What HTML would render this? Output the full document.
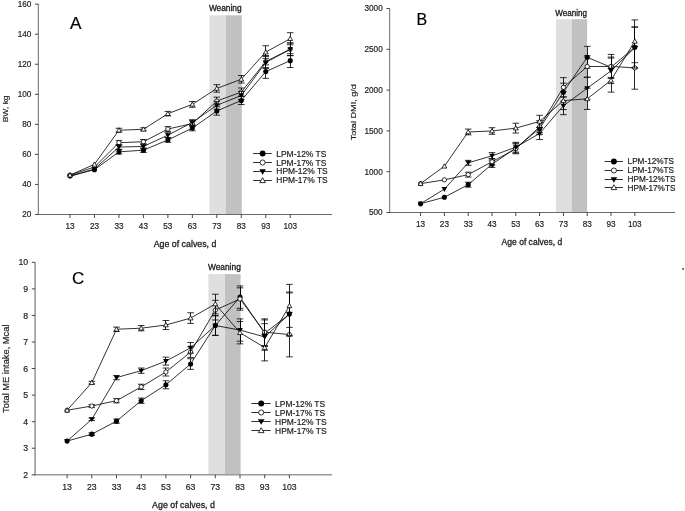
<!DOCTYPE html>
<html><head><meta charset="utf-8"><title>Figure</title>
<style>
html,body{margin:0;padding:0;background:#fff;}
body{width:685px;height:511px;overflow:hidden;font-family:"Liberation Sans",sans-serif;}
svg{display:block;filter:grayscale(100%);}
</style></head><body>
<svg width="685" height="511" viewBox="0 0 685 511">
<rect width="685" height="511" fill="#fff"/>
<g>
<rect x="209.4" y="15.3" width="16.4" height="199.2" fill="#dfdfdf"/>
<rect x="225.8" y="15.3" width="16" height="199.2" fill="#c1c1c1"/>
<text x="208.9" y="11.2" font-size="8.2" text-anchor="start" fill="#1a1a1a" stroke="#1a1a1a" font-family='"Liberation Sans", sans-serif' textLength="32.7" lengthAdjust="spacingAndGlyphs" stroke-width="0.3">Weaning</text>
<line x1="38.3" y1="4" x2="38.3" y2="215" stroke="#6a6a6a" stroke-width="1"/>
<line x1="37.8" y1="214.5" x2="332.2" y2="214.5" stroke="#6a6a6a" stroke-width="1"/>
<line x1="35" y1="214.5" x2="38.3" y2="214.5" stroke="#333" stroke-width="0.9"/>
<text x="31.4" y="217.45" font-size="8.2" text-anchor="end" fill="#222" stroke="#222" font-family='"Liberation Sans", sans-serif' stroke-width="0.18">20</text>
<line x1="35" y1="184.45" x2="38.3" y2="184.45" stroke="#333" stroke-width="0.9"/>
<text x="31.4" y="187.4" font-size="8.2" text-anchor="end" fill="#222" stroke="#222" font-family='"Liberation Sans", sans-serif' stroke-width="0.18">40</text>
<line x1="35" y1="154.4" x2="38.3" y2="154.4" stroke="#333" stroke-width="0.9"/>
<text x="31.4" y="157.35" font-size="8.2" text-anchor="end" fill="#222" stroke="#222" font-family='"Liberation Sans", sans-serif' stroke-width="0.18">60</text>
<line x1="35" y1="124.35" x2="38.3" y2="124.35" stroke="#333" stroke-width="0.9"/>
<text x="31.4" y="127.3" font-size="8.2" text-anchor="end" fill="#222" stroke="#222" font-family='"Liberation Sans", sans-serif' stroke-width="0.18">80</text>
<line x1="35" y1="94.3" x2="38.3" y2="94.3" stroke="#333" stroke-width="0.9"/>
<text x="31.4" y="97.25" font-size="8.2" text-anchor="end" fill="#222" stroke="#222" font-family='"Liberation Sans", sans-serif' stroke-width="0.18">100</text>
<line x1="35" y1="64.25" x2="38.3" y2="64.25" stroke="#333" stroke-width="0.9"/>
<text x="31.4" y="67.2" font-size="8.2" text-anchor="end" fill="#222" stroke="#222" font-family='"Liberation Sans", sans-serif' stroke-width="0.18">120</text>
<line x1="35" y1="34.2" x2="38.3" y2="34.2" stroke="#333" stroke-width="0.9"/>
<text x="31.4" y="37.15" font-size="8.2" text-anchor="end" fill="#222" stroke="#222" font-family='"Liberation Sans", sans-serif' stroke-width="0.18">140</text>
<line x1="35" y1="4.15" x2="38.3" y2="4.15" stroke="#333" stroke-width="0.9"/>
<text x="31.4" y="7.1" font-size="8.2" text-anchor="end" fill="#222" stroke="#222" font-family='"Liberation Sans", sans-serif' stroke-width="0.18">160</text>
<line x1="70" y1="214.5" x2="70" y2="218" stroke="#333" stroke-width="0.9"/>
<text x="70" y="229" font-size="8.2" text-anchor="middle" fill="#222" stroke="#222" font-family='"Liberation Sans", sans-serif' stroke-width="0.18">13</text>
<line x1="94.47" y1="214.5" x2="94.47" y2="218" stroke="#333" stroke-width="0.9"/>
<text x="94.47" y="229" font-size="8.2" text-anchor="middle" fill="#222" stroke="#222" font-family='"Liberation Sans", sans-serif' stroke-width="0.18">23</text>
<line x1="118.94" y1="214.5" x2="118.94" y2="218" stroke="#333" stroke-width="0.9"/>
<text x="118.94" y="229" font-size="8.2" text-anchor="middle" fill="#222" stroke="#222" font-family='"Liberation Sans", sans-serif' stroke-width="0.18">33</text>
<line x1="143.41" y1="214.5" x2="143.41" y2="218" stroke="#333" stroke-width="0.9"/>
<text x="143.41" y="229" font-size="8.2" text-anchor="middle" fill="#222" stroke="#222" font-family='"Liberation Sans", sans-serif' stroke-width="0.18">43</text>
<line x1="167.88" y1="214.5" x2="167.88" y2="218" stroke="#333" stroke-width="0.9"/>
<text x="167.88" y="229" font-size="8.2" text-anchor="middle" fill="#222" stroke="#222" font-family='"Liberation Sans", sans-serif' stroke-width="0.18">53</text>
<line x1="192.35" y1="214.5" x2="192.35" y2="218" stroke="#333" stroke-width="0.9"/>
<text x="192.35" y="229" font-size="8.2" text-anchor="middle" fill="#222" stroke="#222" font-family='"Liberation Sans", sans-serif' stroke-width="0.18">63</text>
<line x1="216.82" y1="214.5" x2="216.82" y2="218" stroke="#333" stroke-width="0.9"/>
<text x="216.82" y="229" font-size="8.2" text-anchor="middle" fill="#222" stroke="#222" font-family='"Liberation Sans", sans-serif' stroke-width="0.18">73</text>
<line x1="241.29" y1="214.5" x2="241.29" y2="218" stroke="#333" stroke-width="0.9"/>
<text x="241.29" y="229" font-size="8.2" text-anchor="middle" fill="#222" stroke="#222" font-family='"Liberation Sans", sans-serif' stroke-width="0.18">83</text>
<line x1="265.76" y1="214.5" x2="265.76" y2="218" stroke="#333" stroke-width="0.9"/>
<text x="265.76" y="229" font-size="8.2" text-anchor="middle" fill="#222" stroke="#222" font-family='"Liberation Sans", sans-serif' stroke-width="0.18">93</text>
<line x1="290.23" y1="214.5" x2="290.23" y2="218" stroke="#333" stroke-width="0.9"/>
<text x="290.23" y="229" font-size="8.2" text-anchor="middle" fill="#222" stroke="#222" font-family='"Liberation Sans", sans-serif' stroke-width="0.18">103</text>
<text x="153.7" y="247.2" font-size="9.2" text-anchor="start" fill="#222" stroke="#222" font-family='"Liberation Sans", sans-serif' textLength="62.7" lengthAdjust="spacingAndGlyphs" stroke-width="0.3">Age of calves, d</text>
<text transform="translate(7.9 122.3) rotate(-90)" font-size="8" fill="#222" stroke="#222" stroke-width="0.18" font-family='"Liberation Sans", sans-serif' textLength="26.9" lengthAdjust="spacingAndGlyphs">BW, kg</text>
<text x="69.9" y="29.4" font-size="17.2" text-anchor="start" fill="#000" stroke="#000" font-family='"Liberation Sans", sans-serif' stroke-width="0.18">A</text>
<polyline points="70,175.74 94.47,169.73 118.94,151.85 143.41,150.19 167.88,139.98 192.35,128.11 216.82,110.98 241.29,100.46 265.76,71.61 290.23,60.64" fill="none" stroke="#000" stroke-width="0.8"/>
<polyline points="70,175.13 94.47,167.02 118.94,142.68 143.41,141.78 167.88,129.01 192.35,123.6 216.82,101.06 241.29,92.05 265.76,61.55 290.23,49.22" fill="none" stroke="#000" stroke-width="0.8"/>
<polyline points="70,176.49 94.47,168.97 118.94,147.04 143.41,146.44 167.88,135.17 192.35,122.4 216.82,105.27 241.29,95.5 265.76,62.45 290.23,49.38" fill="none" stroke="#000" stroke-width="0.8"/>
<polyline points="70,175.13 94.47,164.32 118.94,130.21 143.41,129.31 167.88,113.68 192.35,104.37 216.82,88.44 241.29,79.28 265.76,52.08 290.23,38.71" fill="none" stroke="#000" stroke-width="0.8"/>
<path d="M118.5 149.59V154.1" stroke="#000" stroke-width="0.85" fill="none"/>
<path d="M115.64 149.59H122.24M115.64 154.1H122.24" stroke="#000" stroke-width="0.8" fill="none"/>
<path d="M143.5 147.94V152.45" stroke="#000" stroke-width="0.85" fill="none"/>
<path d="M140.11 147.94H146.71M140.11 152.45H146.71" stroke="#000" stroke-width="0.8" fill="none"/>
<path d="M167.5 137.72V142.23" stroke="#000" stroke-width="0.85" fill="none"/>
<path d="M164.58 137.72H171.18M164.58 142.23H171.18" stroke="#000" stroke-width="0.8" fill="none"/>
<path d="M192.5 125.4V130.81" stroke="#000" stroke-width="0.85" fill="none"/>
<path d="M189.05 125.4H195.65M189.05 130.81H195.65" stroke="#000" stroke-width="0.8" fill="none"/>
<path d="M216.5 106.77V115.18" stroke="#000" stroke-width="0.85" fill="none"/>
<path d="M213.52 106.77H220.12M213.52 115.18H220.12" stroke="#000" stroke-width="0.8" fill="none"/>
<path d="M241.5 96.4V104.52" stroke="#000" stroke-width="0.85" fill="none"/>
<path d="M237.99 96.4H244.59M237.99 104.52H244.59" stroke="#000" stroke-width="0.8" fill="none"/>
<path d="M265.5 64.85V78.37" stroke="#000" stroke-width="0.85" fill="none"/>
<path d="M262.46 64.85H269.06M262.46 78.37H269.06" stroke="#000" stroke-width="0.8" fill="none"/>
<path d="M290.5 53.73V67.56" stroke="#000" stroke-width="0.85" fill="none"/>
<path d="M286.93 53.73H293.53M286.93 67.56H293.53" stroke="#000" stroke-width="0.8" fill="none"/>
<circle cx="70" cy="175.74" r="2.55" fill="#000"/>
<circle cx="94.47" cy="169.73" r="2.55" fill="#000"/>
<circle cx="118.94" cy="151.85" r="2.55" fill="#000"/>
<circle cx="143.41" cy="150.19" r="2.55" fill="#000"/>
<circle cx="167.88" cy="139.98" r="2.55" fill="#000"/>
<circle cx="192.35" cy="128.11" r="2.55" fill="#000"/>
<circle cx="216.82" cy="110.98" r="2.55" fill="#000"/>
<circle cx="241.29" cy="100.46" r="2.55" fill="#000"/>
<circle cx="265.76" cy="71.61" r="2.55" fill="#000"/>
<circle cx="290.23" cy="60.64" r="2.55" fill="#000"/>
<path d="M118.5 140.43V144.93" stroke="#000" stroke-width="0.85" fill="none"/>
<path d="M115.64 140.43H122.24M115.64 144.93H122.24" stroke="#000" stroke-width="0.8" fill="none"/>
<path d="M143.5 139.53V144.03" stroke="#000" stroke-width="0.85" fill="none"/>
<path d="M140.11 139.53H146.71M140.11 144.03H146.71" stroke="#000" stroke-width="0.8" fill="none"/>
<path d="M167.5 126.6V131.41" stroke="#000" stroke-width="0.85" fill="none"/>
<path d="M164.58 126.6H171.18M164.58 131.41H171.18" stroke="#000" stroke-width="0.8" fill="none"/>
<path d="M192.5 120.89V126.3" stroke="#000" stroke-width="0.85" fill="none"/>
<path d="M189.05 120.89H195.65M189.05 126.3H195.65" stroke="#000" stroke-width="0.8" fill="none"/>
<path d="M216.5 97.15V104.97" stroke="#000" stroke-width="0.85" fill="none"/>
<path d="M213.52 97.15H220.12M213.52 104.97H220.12" stroke="#000" stroke-width="0.8" fill="none"/>
<path d="M241.5 87.99V96.1" stroke="#000" stroke-width="0.85" fill="none"/>
<path d="M237.99 87.99H244.59M237.99 96.1H244.59" stroke="#000" stroke-width="0.8" fill="none"/>
<path d="M265.5 55.54V67.56" stroke="#000" stroke-width="0.85" fill="none"/>
<path d="M262.46 55.54H269.06M262.46 67.56H269.06" stroke="#000" stroke-width="0.8" fill="none"/>
<path d="M290.5 42.91V55.54" stroke="#000" stroke-width="0.85" fill="none"/>
<path d="M286.93 42.91H293.53M286.93 55.54H293.53" stroke="#000" stroke-width="0.8" fill="none"/>
<circle cx="70" cy="175.13" r="2.15" fill="#fff" stroke="#000" stroke-width="0.8"/>
<circle cx="94.47" cy="167.02" r="2.15" fill="#fff" stroke="#000" stroke-width="0.8"/>
<circle cx="118.94" cy="142.68" r="2.15" fill="#fff" stroke="#000" stroke-width="0.8"/>
<circle cx="143.41" cy="141.78" r="2.15" fill="#fff" stroke="#000" stroke-width="0.8"/>
<circle cx="167.88" cy="129.01" r="2.15" fill="#fff" stroke="#000" stroke-width="0.8"/>
<circle cx="192.35" cy="123.6" r="2.15" fill="#fff" stroke="#000" stroke-width="0.8"/>
<circle cx="216.82" cy="101.06" r="2.15" fill="#fff" stroke="#000" stroke-width="0.8"/>
<circle cx="241.29" cy="92.05" r="2.15" fill="#fff" stroke="#000" stroke-width="0.8"/>
<circle cx="265.76" cy="61.55" r="2.15" fill="#fff" stroke="#000" stroke-width="0.8"/>
<circle cx="290.23" cy="49.22" r="2.15" fill="#fff" stroke="#000" stroke-width="0.8"/>
<path d="M118.5 144.78V149.29" stroke="#000" stroke-width="0.85" fill="none"/>
<path d="M115.64 144.78H122.24M115.64 149.29H122.24" stroke="#000" stroke-width="0.8" fill="none"/>
<path d="M143.5 144.18V148.69" stroke="#000" stroke-width="0.85" fill="none"/>
<path d="M140.11 144.18H146.71M140.11 148.69H146.71" stroke="#000" stroke-width="0.8" fill="none"/>
<path d="M167.5 132.76V137.57" stroke="#000" stroke-width="0.85" fill="none"/>
<path d="M164.58 132.76H171.18M164.58 137.57H171.18" stroke="#000" stroke-width="0.8" fill="none"/>
<path d="M192.5 119.69V125.1" stroke="#000" stroke-width="0.85" fill="none"/>
<path d="M189.05 119.69H195.65M189.05 125.1H195.65" stroke="#000" stroke-width="0.8" fill="none"/>
<path d="M216.5 101.36V109.17" stroke="#000" stroke-width="0.85" fill="none"/>
<path d="M213.52 101.36H220.12M213.52 109.17H220.12" stroke="#000" stroke-width="0.8" fill="none"/>
<path d="M241.5 91.45V99.56" stroke="#000" stroke-width="0.85" fill="none"/>
<path d="M237.99 91.45H244.59M237.99 99.56H244.59" stroke="#000" stroke-width="0.8" fill="none"/>
<path d="M265.5 56.44V68.46" stroke="#000" stroke-width="0.85" fill="none"/>
<path d="M262.46 56.44H269.06M262.46 68.46H269.06" stroke="#000" stroke-width="0.8" fill="none"/>
<path d="M290.5 43.06V55.69" stroke="#000" stroke-width="0.85" fill="none"/>
<path d="M286.93 43.06H293.53M286.93 55.69H293.53" stroke="#000" stroke-width="0.8" fill="none"/>
<path d="M67.14 174.45L72.86 174.45L70 179.29Z" fill="#000"/>
<path d="M91.61 166.93L97.33 166.93L94.47 171.78Z" fill="#000"/>
<path d="M116.08 145L121.8 145L118.94 149.84Z" fill="#000"/>
<path d="M140.55 144.4L146.27 144.4L143.41 149.24Z" fill="#000"/>
<path d="M165.02 133.13L170.74 133.13L167.88 137.97Z" fill="#000"/>
<path d="M189.49 120.36L195.21 120.36L192.35 125.2Z" fill="#000"/>
<path d="M213.96 103.23L219.68 103.23L216.82 108.07Z" fill="#000"/>
<path d="M238.43 93.46L244.15 93.46L241.29 98.31Z" fill="#000"/>
<path d="M262.9 60.41L268.62 60.41L265.76 65.25Z" fill="#000"/>
<path d="M287.37 47.34L293.09 47.34L290.23 52.18Z" fill="#000"/>
<path d="M118.5 128.26V132.16" stroke="#000" stroke-width="0.85" fill="none"/>
<path d="M115.64 128.26H122.24M115.64 132.16H122.24" stroke="#000" stroke-width="0.8" fill="none"/>
<path d="M143.5 127.81V130.81" stroke="#000" stroke-width="0.85" fill="none"/>
<path d="M140.11 127.81H146.71M140.11 130.81H146.71" stroke="#000" stroke-width="0.8" fill="none"/>
<path d="M167.5 111.43V115.94" stroke="#000" stroke-width="0.85" fill="none"/>
<path d="M164.58 111.43H171.18M164.58 115.94H171.18" stroke="#000" stroke-width="0.8" fill="none"/>
<path d="M192.5 101.51V107.22" stroke="#000" stroke-width="0.85" fill="none"/>
<path d="M189.05 101.51H195.65M189.05 107.22H195.65" stroke="#000" stroke-width="0.8" fill="none"/>
<path d="M216.5 84.68V92.2" stroke="#000" stroke-width="0.85" fill="none"/>
<path d="M213.52 84.68H220.12M213.52 92.2H220.12" stroke="#000" stroke-width="0.8" fill="none"/>
<path d="M241.5 75.52V83.03" stroke="#000" stroke-width="0.85" fill="none"/>
<path d="M237.99 75.52H244.59M237.99 83.03H244.59" stroke="#000" stroke-width="0.8" fill="none"/>
<path d="M265.5 45.77V58.39" stroke="#000" stroke-width="0.85" fill="none"/>
<path d="M262.46 45.77H269.06M262.46 58.39H269.06" stroke="#000" stroke-width="0.8" fill="none"/>
<path d="M290.5 32.7V44.72" stroke="#000" stroke-width="0.85" fill="none"/>
<path d="M286.93 32.7H293.53M286.93 44.72H293.53" stroke="#000" stroke-width="0.8" fill="none"/>
<path d="M67.58 176.97L72.42 176.97L70 172.71Z" fill="#fff" stroke="#000" stroke-width="0.8" stroke-linejoin="miter"/>
<path d="M92.05 166.15L96.89 166.15L94.47 161.89Z" fill="#fff" stroke="#000" stroke-width="0.8" stroke-linejoin="miter"/>
<path d="M116.52 132.05L121.36 132.05L118.94 127.79Z" fill="#fff" stroke="#000" stroke-width="0.8" stroke-linejoin="miter"/>
<path d="M140.99 131.14L145.83 131.14L143.41 126.89Z" fill="#fff" stroke="#000" stroke-width="0.8" stroke-linejoin="miter"/>
<path d="M165.46 115.52L170.3 115.52L167.88 111.26Z" fill="#fff" stroke="#000" stroke-width="0.8" stroke-linejoin="miter"/>
<path d="M189.93 106.2L194.77 106.2L192.35 101.94Z" fill="#fff" stroke="#000" stroke-width="0.8" stroke-linejoin="miter"/>
<path d="M214.4 90.28L219.24 90.28L216.82 86.02Z" fill="#fff" stroke="#000" stroke-width="0.8" stroke-linejoin="miter"/>
<path d="M238.87 81.11L243.71 81.11L241.29 76.85Z" fill="#fff" stroke="#000" stroke-width="0.8" stroke-linejoin="miter"/>
<path d="M263.34 53.92L268.18 53.92L265.76 49.66Z" fill="#fff" stroke="#000" stroke-width="0.8" stroke-linejoin="miter"/>
<path d="M287.81 40.54L292.65 40.54L290.23 36.29Z" fill="#fff" stroke="#000" stroke-width="0.8" stroke-linejoin="miter"/>
<line x1="253.1" y1="153.5" x2="271.8" y2="153.5" stroke="#1a1a1a" stroke-width="0.9"/>
<circle cx="262.6" cy="153.5" r="2.95" fill="#000"/>
<text x="276.3" y="156.94" font-size="8.45" text-anchor="start" fill="#1a1a1a" stroke="#1a1a1a" font-family='"Liberation Sans", sans-serif' stroke-width="0.18">LPM-12% TS</text>
<line x1="253.1" y1="162.5" x2="271.8" y2="162.5" stroke="#1a1a1a" stroke-width="0.9"/>
<circle cx="262.6" cy="162.5" r="2.55" fill="#fff" stroke="#000" stroke-width="0.8"/>
<text x="276.3" y="165.64" font-size="8.45" text-anchor="start" fill="#1a1a1a" stroke="#1a1a1a" font-family='"Liberation Sans", sans-serif' stroke-width="0.18">LPM-17% TS</text>
<line x1="253.1" y1="171.5" x2="271.8" y2="171.5" stroke="#1a1a1a" stroke-width="0.9"/>
<path d="M259.3 169.14L265.9 169.14L262.6 174.75Z" fill="#000"/>
<text x="276.3" y="174.44" font-size="8.45" text-anchor="start" fill="#1a1a1a" stroke="#1a1a1a" font-family='"Liberation Sans", sans-serif' stroke-width="0.18">HPM-12% TS</text>
<line x1="253.1" y1="180.5" x2="271.8" y2="180.5" stroke="#1a1a1a" stroke-width="0.9"/>
<path d="M259.8 182.62L265.4 182.62L262.6 177.7Z" fill="#fff" stroke="#000" stroke-width="0.8" stroke-linejoin="miter"/>
<text x="276.3" y="183.14" font-size="8.45" text-anchor="start" fill="#1a1a1a" stroke="#1a1a1a" font-family='"Liberation Sans", sans-serif' stroke-width="0.18">HPM-17% TS</text>
<rect x="556" y="19.2" width="15.7" height="193.3" fill="#dfdfdf"/>
<rect x="571.7" y="19.2" width="15.4" height="193.3" fill="#c1c1c1"/>
<text x="555.3" y="15.6" font-size="8.2" text-anchor="start" fill="#1a1a1a" stroke="#1a1a1a" font-family='"Liberation Sans", sans-serif' textLength="31.7" lengthAdjust="spacingAndGlyphs" stroke-width="0.3">Weaning</text>
<line x1="389.7" y1="8.4" x2="389.7" y2="213" stroke="#6a6a6a" stroke-width="1"/>
<line x1="389.2" y1="212.5" x2="675.2" y2="212.5" stroke="#6a6a6a" stroke-width="1"/>
<line x1="386.4" y1="212.5" x2="389.7" y2="212.5" stroke="#333" stroke-width="0.9"/>
<text x="382.7" y="215.45" font-size="8.2" text-anchor="end" fill="#222" stroke="#222" font-family='"Liberation Sans", sans-serif' stroke-width="0.18">500</text>
<line x1="386.4" y1="171.7" x2="389.7" y2="171.7" stroke="#333" stroke-width="0.9"/>
<text x="382.7" y="174.65" font-size="8.2" text-anchor="end" fill="#222" stroke="#222" font-family='"Liberation Sans", sans-serif' stroke-width="0.18">1000</text>
<line x1="386.4" y1="130.9" x2="389.7" y2="130.9" stroke="#333" stroke-width="0.9"/>
<text x="382.7" y="133.85" font-size="8.2" text-anchor="end" fill="#222" stroke="#222" font-family='"Liberation Sans", sans-serif' stroke-width="0.18">1500</text>
<line x1="386.4" y1="90.1" x2="389.7" y2="90.1" stroke="#333" stroke-width="0.9"/>
<text x="382.7" y="93.05" font-size="8.2" text-anchor="end" fill="#222" stroke="#222" font-family='"Liberation Sans", sans-serif' stroke-width="0.18">2000</text>
<line x1="386.4" y1="49.3" x2="389.7" y2="49.3" stroke="#333" stroke-width="0.9"/>
<text x="382.7" y="52.25" font-size="8.2" text-anchor="end" fill="#222" stroke="#222" font-family='"Liberation Sans", sans-serif' stroke-width="0.18">2500</text>
<line x1="386.4" y1="8.5" x2="389.7" y2="8.5" stroke="#333" stroke-width="0.9"/>
<text x="382.7" y="11.45" font-size="8.2" text-anchor="end" fill="#222" stroke="#222" font-family='"Liberation Sans", sans-serif' stroke-width="0.18">3000</text>
<line x1="420.6" y1="212.5" x2="420.6" y2="216" stroke="#333" stroke-width="0.9"/>
<text x="420.6" y="227" font-size="8.2" text-anchor="middle" fill="#222" stroke="#222" font-family='"Liberation Sans", sans-serif' stroke-width="0.18">13</text>
<line x1="444.4" y1="212.5" x2="444.4" y2="216" stroke="#333" stroke-width="0.9"/>
<text x="444.4" y="227" font-size="8.2" text-anchor="middle" fill="#222" stroke="#222" font-family='"Liberation Sans", sans-serif' stroke-width="0.18">23</text>
<line x1="468.2" y1="212.5" x2="468.2" y2="216" stroke="#333" stroke-width="0.9"/>
<text x="468.2" y="227" font-size="8.2" text-anchor="middle" fill="#222" stroke="#222" font-family='"Liberation Sans", sans-serif' stroke-width="0.18">33</text>
<line x1="492" y1="212.5" x2="492" y2="216" stroke="#333" stroke-width="0.9"/>
<text x="492" y="227" font-size="8.2" text-anchor="middle" fill="#222" stroke="#222" font-family='"Liberation Sans", sans-serif' stroke-width="0.18">43</text>
<line x1="515.8" y1="212.5" x2="515.8" y2="216" stroke="#333" stroke-width="0.9"/>
<text x="515.8" y="227" font-size="8.2" text-anchor="middle" fill="#222" stroke="#222" font-family='"Liberation Sans", sans-serif' stroke-width="0.18">53</text>
<line x1="539.6" y1="212.5" x2="539.6" y2="216" stroke="#333" stroke-width="0.9"/>
<text x="539.6" y="227" font-size="8.2" text-anchor="middle" fill="#222" stroke="#222" font-family='"Liberation Sans", sans-serif' stroke-width="0.18">63</text>
<line x1="563.4" y1="212.5" x2="563.4" y2="216" stroke="#333" stroke-width="0.9"/>
<text x="563.4" y="227" font-size="8.2" text-anchor="middle" fill="#222" stroke="#222" font-family='"Liberation Sans", sans-serif' stroke-width="0.18">73</text>
<line x1="587.2" y1="212.5" x2="587.2" y2="216" stroke="#333" stroke-width="0.9"/>
<text x="587.2" y="227" font-size="8.2" text-anchor="middle" fill="#222" stroke="#222" font-family='"Liberation Sans", sans-serif' stroke-width="0.18">83</text>
<line x1="611" y1="212.5" x2="611" y2="216" stroke="#333" stroke-width="0.9"/>
<text x="611" y="227" font-size="8.2" text-anchor="middle" fill="#222" stroke="#222" font-family='"Liberation Sans", sans-serif' stroke-width="0.18">93</text>
<line x1="634.8" y1="212.5" x2="634.8" y2="216" stroke="#333" stroke-width="0.9"/>
<text x="634.8" y="227" font-size="8.2" text-anchor="middle" fill="#222" stroke="#222" font-family='"Liberation Sans", sans-serif' stroke-width="0.18">103</text>
<text x="501.6" y="244.8" font-size="9" text-anchor="start" fill="#222" stroke="#222" font-family='"Liberation Sans", sans-serif' textLength="60.7" lengthAdjust="spacingAndGlyphs" stroke-width="0.3">Age of calves, d</text>
<text transform="translate(356.2 140.3) rotate(-90)" font-size="8" fill="#222" stroke="#222" stroke-width="0.18" font-family='"Liberation Sans", sans-serif' textLength="56.2" lengthAdjust="spacingAndGlyphs">Total DMI, g/d</text>
<text x="416.6" y="25.1" font-size="16" text-anchor="start" fill="#000" stroke="#000" font-family='"Liberation Sans", sans-serif' stroke-width="0.18">B</text>
<polyline points="420.6,203.69 444.4,197.24 468.2,184.67 492,164.19 515.8,148.04 539.6,128.53 563.4,92.14 587.2,57.3 611,67.25 634.8,47.26" fill="none" stroke="#000" stroke-width="0.8"/>
<polyline points="420.6,183.61 444.4,179.86 468.2,174.64 492,161.74 515.8,148.85 539.6,126.74 563.4,87.33 587.2,66.52 611,66.44 634.8,67.82" fill="none" stroke="#000" stroke-width="0.8"/>
<polyline points="420.6,203.69 444.4,189.08 468.2,162.81 492,155.87 515.8,147.22 539.6,133.43 563.4,105.77 587.2,88.22 611,70.84 634.8,47.67" fill="none" stroke="#000" stroke-width="0.8"/>
<polyline points="420.6,183.61 444.4,166.23 468.2,131.96 492,130.98 515.8,128.13 539.6,121.43 563.4,100.54 587.2,98.83 611,80.31 634.8,41.3" fill="none" stroke="#000" stroke-width="0.8"/>
<path d="M468.5 182.23V187.12" stroke="#000" stroke-width="0.85" fill="none"/>
<path d="M464.9 182.23H471.5M464.9 187.12H471.5" stroke="#000" stroke-width="0.8" fill="none"/>
<path d="M492.5 160.93V167.46" stroke="#000" stroke-width="0.85" fill="none"/>
<path d="M488.7 160.93H495.3M488.7 167.46H495.3" stroke="#000" stroke-width="0.8" fill="none"/>
<path d="M515.5 143.14V152.93" stroke="#000" stroke-width="0.85" fill="none"/>
<path d="M512.5 143.14H519.1M512.5 152.93H519.1" stroke="#000" stroke-width="0.8" fill="none"/>
<path d="M539.5 122.41V134.65" stroke="#000" stroke-width="0.85" fill="none"/>
<path d="M536.3 122.41H542.9M536.3 134.65H542.9" stroke="#000" stroke-width="0.8" fill="none"/>
<path d="M563.5 83.16V101.12" stroke="#000" stroke-width="0.85" fill="none"/>
<path d="M560.1 83.16H566.7M560.1 101.12H566.7" stroke="#000" stroke-width="0.8" fill="none"/>
<path d="M587.5 46.36V68.23" stroke="#000" stroke-width="0.85" fill="none"/>
<path d="M583.9 46.36H590.5M583.9 68.23H590.5" stroke="#000" stroke-width="0.8" fill="none"/>
<path d="M611.5 57.05V77.45" stroke="#000" stroke-width="0.85" fill="none"/>
<path d="M607.7 57.05H614.3M607.7 77.45H614.3" stroke="#000" stroke-width="0.8" fill="none"/>
<path d="M634.5 26.86V67.66" stroke="#000" stroke-width="0.85" fill="none"/>
<path d="M631.5 26.86H638.1M631.5 67.66H638.1" stroke="#000" stroke-width="0.8" fill="none"/>
<circle cx="420.6" cy="203.69" r="2.55" fill="#000"/>
<circle cx="444.4" cy="197.24" r="2.55" fill="#000"/>
<circle cx="468.2" cy="184.67" r="2.55" fill="#000"/>
<circle cx="492" cy="164.19" r="2.55" fill="#000"/>
<circle cx="515.8" cy="148.04" r="2.55" fill="#000"/>
<circle cx="539.6" cy="128.53" r="2.55" fill="#000"/>
<circle cx="563.4" cy="92.14" r="2.55" fill="#000"/>
<circle cx="587.2" cy="57.3" r="2.55" fill="#000"/>
<circle cx="611" cy="67.25" r="2.55" fill="#000"/>
<circle cx="634.8" cy="47.26" r="2.55" fill="#000"/>
<path d="M468.5 172.19V177.09" stroke="#000" stroke-width="0.85" fill="none"/>
<path d="M464.9 172.19H471.5M464.9 177.09H471.5" stroke="#000" stroke-width="0.8" fill="none"/>
<path d="M492.5 158.48V165.01" stroke="#000" stroke-width="0.85" fill="none"/>
<path d="M488.7 158.48H495.3M488.7 165.01H495.3" stroke="#000" stroke-width="0.8" fill="none"/>
<path d="M515.5 143.96V153.75" stroke="#000" stroke-width="0.85" fill="none"/>
<path d="M512.5 143.96H519.1M512.5 153.75H519.1" stroke="#000" stroke-width="0.8" fill="none"/>
<path d="M539.5 120.62V132.86" stroke="#000" stroke-width="0.85" fill="none"/>
<path d="M536.3 120.62H542.9M536.3 132.86H542.9" stroke="#000" stroke-width="0.8" fill="none"/>
<path d="M563.5 77.62V97.04" stroke="#000" stroke-width="0.85" fill="none"/>
<path d="M560.1 77.62H566.7M560.1 97.04H566.7" stroke="#000" stroke-width="0.8" fill="none"/>
<path d="M587.5 55.75V77.29" stroke="#000" stroke-width="0.85" fill="none"/>
<path d="M583.9 55.75H590.5M583.9 77.29H590.5" stroke="#000" stroke-width="0.8" fill="none"/>
<path d="M611.5 54.44V78.43" stroke="#000" stroke-width="0.85" fill="none"/>
<path d="M607.7 54.44H614.3M607.7 78.43H614.3" stroke="#000" stroke-width="0.8" fill="none"/>
<path d="M634.5 46.44V89.2" stroke="#000" stroke-width="0.85" fill="none"/>
<path d="M631.5 46.44H638.1M631.5 89.2H638.1" stroke="#000" stroke-width="0.8" fill="none"/>
<circle cx="420.6" cy="183.61" r="2.15" fill="#fff" stroke="#000" stroke-width="0.8"/>
<circle cx="444.4" cy="179.86" r="2.15" fill="#fff" stroke="#000" stroke-width="0.8"/>
<circle cx="468.2" cy="174.64" r="2.15" fill="#fff" stroke="#000" stroke-width="0.8"/>
<circle cx="492" cy="161.74" r="2.15" fill="#fff" stroke="#000" stroke-width="0.8"/>
<circle cx="515.8" cy="148.85" r="2.15" fill="#fff" stroke="#000" stroke-width="0.8"/>
<circle cx="539.6" cy="126.74" r="2.15" fill="#fff" stroke="#000" stroke-width="0.8"/>
<circle cx="563.4" cy="87.33" r="2.15" fill="#fff" stroke="#000" stroke-width="0.8"/>
<circle cx="587.2" cy="66.52" r="2.15" fill="#fff" stroke="#000" stroke-width="0.8"/>
<circle cx="611" cy="66.44" r="2.15" fill="#fff" stroke="#000" stroke-width="0.8"/>
<circle cx="634.8" cy="67.82" r="2.15" fill="#fff" stroke="#000" stroke-width="0.8"/>
<path d="M468.5 160.36V165.25" stroke="#000" stroke-width="0.85" fill="none"/>
<path d="M464.9 160.36H471.5M464.9 165.25H471.5" stroke="#000" stroke-width="0.8" fill="none"/>
<path d="M492.5 152.61V159.13" stroke="#000" stroke-width="0.85" fill="none"/>
<path d="M488.7 152.61H495.3M488.7 159.13H495.3" stroke="#000" stroke-width="0.8" fill="none"/>
<path d="M515.5 142.32V152.12" stroke="#000" stroke-width="0.85" fill="none"/>
<path d="M512.5 142.32H519.1M512.5 152.12H519.1" stroke="#000" stroke-width="0.8" fill="none"/>
<path d="M539.5 127.31V139.55" stroke="#000" stroke-width="0.85" fill="none"/>
<path d="M536.3 127.31H542.9M536.3 139.55H542.9" stroke="#000" stroke-width="0.8" fill="none"/>
<path d="M563.5 96.87V114.66" stroke="#000" stroke-width="0.85" fill="none"/>
<path d="M560.1 96.87H566.7M560.1 114.66H566.7" stroke="#000" stroke-width="0.8" fill="none"/>
<path d="M587.5 77.21V99.24" stroke="#000" stroke-width="0.85" fill="none"/>
<path d="M583.9 77.21H590.5M583.9 99.24H590.5" stroke="#000" stroke-width="0.8" fill="none"/>
<path d="M611.5 58.11V83.57" stroke="#000" stroke-width="0.85" fill="none"/>
<path d="M607.7 58.11H614.3M607.7 83.57H614.3" stroke="#000" stroke-width="0.8" fill="none"/>
<path d="M634.5 27.27V68.07" stroke="#000" stroke-width="0.85" fill="none"/>
<path d="M631.5 27.27H638.1M631.5 68.07H638.1" stroke="#000" stroke-width="0.8" fill="none"/>
<path d="M417.74 201.65L423.46 201.65L420.6 206.49Z" fill="#000"/>
<path d="M441.54 187.04L447.26 187.04L444.4 191.89Z" fill="#000"/>
<path d="M465.34 160.77L471.06 160.77L468.2 165.61Z" fill="#000"/>
<path d="M489.14 153.83L494.86 153.83L492 158.67Z" fill="#000"/>
<path d="M512.94 145.18L518.66 145.18L515.8 150.03Z" fill="#000"/>
<path d="M536.74 131.39L542.46 131.39L539.6 136.23Z" fill="#000"/>
<path d="M560.54 103.73L566.26 103.73L563.4 108.57Z" fill="#000"/>
<path d="M584.34 86.18L590.06 86.18L587.2 91.03Z" fill="#000"/>
<path d="M608.14 68.8L613.86 68.8L611 73.65Z" fill="#000"/>
<path d="M631.94 45.63L637.66 45.63L634.8 50.47Z" fill="#000"/>
<path d="M468.5 129.1V134.82" stroke="#000" stroke-width="0.85" fill="none"/>
<path d="M464.9 129.1H471.5M464.9 134.82H471.5" stroke="#000" stroke-width="0.8" fill="none"/>
<path d="M492.5 127.72V134.25" stroke="#000" stroke-width="0.85" fill="none"/>
<path d="M488.7 127.72H495.3M488.7 134.25H495.3" stroke="#000" stroke-width="0.8" fill="none"/>
<path d="M515.5 123.23V133.02" stroke="#000" stroke-width="0.85" fill="none"/>
<path d="M512.5 123.23H519.1M512.5 133.02H519.1" stroke="#000" stroke-width="0.8" fill="none"/>
<path d="M539.5 115.31V127.55" stroke="#000" stroke-width="0.85" fill="none"/>
<path d="M536.3 115.31H542.9M536.3 127.55H542.9" stroke="#000" stroke-width="0.8" fill="none"/>
<path d="M563.5 91.57V109.52" stroke="#000" stroke-width="0.85" fill="none"/>
<path d="M560.1 91.57H566.7M560.1 109.52H566.7" stroke="#000" stroke-width="0.8" fill="none"/>
<path d="M587.5 88.22V109.44" stroke="#000" stroke-width="0.85" fill="none"/>
<path d="M583.9 88.22H590.5M583.9 109.44H590.5" stroke="#000" stroke-width="0.8" fill="none"/>
<path d="M611.5 68.48V92.14" stroke="#000" stroke-width="0.85" fill="none"/>
<path d="M607.7 68.48H614.3M607.7 92.14H614.3" stroke="#000" stroke-width="0.8" fill="none"/>
<path d="M634.5 19.92V62.68" stroke="#000" stroke-width="0.85" fill="none"/>
<path d="M631.5 19.92H638.1M631.5 62.68H638.1" stroke="#000" stroke-width="0.8" fill="none"/>
<path d="M418.18 185.45L423.02 185.45L420.6 181.19Z" fill="#fff" stroke="#000" stroke-width="0.8" stroke-linejoin="miter"/>
<path d="M441.98 168.07L446.82 168.07L444.4 163.81Z" fill="#fff" stroke="#000" stroke-width="0.8" stroke-linejoin="miter"/>
<path d="M465.78 133.8L470.62 133.8L468.2 129.54Z" fill="#fff" stroke="#000" stroke-width="0.8" stroke-linejoin="miter"/>
<path d="M489.58 132.82L494.42 132.82L492 128.56Z" fill="#fff" stroke="#000" stroke-width="0.8" stroke-linejoin="miter"/>
<path d="M513.38 129.96L518.22 129.96L515.8 125.7Z" fill="#fff" stroke="#000" stroke-width="0.8" stroke-linejoin="miter"/>
<path d="M537.18 123.27L542.02 123.27L539.6 119.01Z" fill="#fff" stroke="#000" stroke-width="0.8" stroke-linejoin="miter"/>
<path d="M560.98 102.38L565.82 102.38L563.4 98.12Z" fill="#fff" stroke="#000" stroke-width="0.8" stroke-linejoin="miter"/>
<path d="M584.78 100.67L589.62 100.67L587.2 96.41Z" fill="#fff" stroke="#000" stroke-width="0.8" stroke-linejoin="miter"/>
<path d="M608.58 82.14L613.42 82.14L611 77.89Z" fill="#fff" stroke="#000" stroke-width="0.8" stroke-linejoin="miter"/>
<path d="M632.38 43.14L637.22 43.14L634.8 38.88Z" fill="#fff" stroke="#000" stroke-width="0.8" stroke-linejoin="miter"/>
<line x1="604.6" y1="161.5" x2="623" y2="161.5" stroke="#1a1a1a" stroke-width="0.9"/>
<circle cx="613.9" cy="161.5" r="2.95" fill="#000"/>
<text x="627.6" y="164.35" font-size="8.2" text-anchor="start" fill="#1a1a1a" stroke="#1a1a1a" font-family='"Liberation Sans", sans-serif' stroke-width="0.18">LPM-12%TS</text>
<line x1="604.6" y1="170.5" x2="623" y2="170.5" stroke="#1a1a1a" stroke-width="0.9"/>
<circle cx="613.9" cy="170.5" r="2.55" fill="#fff" stroke="#000" stroke-width="0.8"/>
<text x="627.6" y="173.45" font-size="8.2" text-anchor="start" fill="#1a1a1a" stroke="#1a1a1a" font-family='"Liberation Sans", sans-serif' stroke-width="0.18">LPM-17%TS</text>
<line x1="604.6" y1="179.5" x2="623" y2="179.5" stroke="#1a1a1a" stroke-width="0.9"/>
<path d="M610.6 177.14L617.2 177.14L613.9 182.75Z" fill="#000"/>
<text x="627.6" y="182.05" font-size="8.2" text-anchor="start" fill="#1a1a1a" stroke="#1a1a1a" font-family='"Liberation Sans", sans-serif' stroke-width="0.18">HPM-12%TS</text>
<line x1="604.6" y1="187.5" x2="623" y2="187.5" stroke="#1a1a1a" stroke-width="0.9"/>
<path d="M611.1 189.62L616.7 189.62L613.9 184.7Z" fill="#fff" stroke="#000" stroke-width="0.8" stroke-linejoin="miter"/>
<text x="627.6" y="190.65" font-size="8.2" text-anchor="start" fill="#1a1a1a" stroke="#1a1a1a" font-family='"Liberation Sans", sans-serif' stroke-width="0.18">HPM-17%TS</text>
<rect x="208.4" y="274.1" width="16.6" height="200.7" fill="#dfdfdf"/>
<rect x="225" y="274.1" width="15.6" height="200.7" fill="#c1c1c1"/>
<text x="207.9" y="270" font-size="8.2" text-anchor="start" fill="#1a1a1a" stroke="#1a1a1a" font-family='"Liberation Sans", sans-serif' textLength="32.9" lengthAdjust="spacingAndGlyphs" stroke-width="0.3">Weaning</text>
<line x1="35.1" y1="262.3" x2="35.1" y2="475.6" stroke="#9a9a9a" stroke-width="1.6"/>
<line x1="34.3" y1="474.8" x2="332" y2="474.8" stroke="#9a9a9a" stroke-width="1.6"/>
<line x1="31.8" y1="474.8" x2="35.1" y2="474.8" stroke="#333" stroke-width="0.9"/>
<text x="28.1" y="477.93" font-size="8.7" text-anchor="end" fill="#222" stroke="#222" font-family='"Liberation Sans", sans-serif' stroke-width="0.18">2</text>
<line x1="31.8" y1="448.24" x2="35.1" y2="448.24" stroke="#333" stroke-width="0.9"/>
<text x="28.1" y="451.37" font-size="8.7" text-anchor="end" fill="#222" stroke="#222" font-family='"Liberation Sans", sans-serif' stroke-width="0.18">3</text>
<line x1="31.8" y1="421.68" x2="35.1" y2="421.68" stroke="#333" stroke-width="0.9"/>
<text x="28.1" y="424.81" font-size="8.7" text-anchor="end" fill="#222" stroke="#222" font-family='"Liberation Sans", sans-serif' stroke-width="0.18">4</text>
<line x1="31.8" y1="395.12" x2="35.1" y2="395.12" stroke="#333" stroke-width="0.9"/>
<text x="28.1" y="398.25" font-size="8.7" text-anchor="end" fill="#222" stroke="#222" font-family='"Liberation Sans", sans-serif' stroke-width="0.18">5</text>
<line x1="31.8" y1="368.56" x2="35.1" y2="368.56" stroke="#333" stroke-width="0.9"/>
<text x="28.1" y="371.69" font-size="8.7" text-anchor="end" fill="#222" stroke="#222" font-family='"Liberation Sans", sans-serif' stroke-width="0.18">6</text>
<line x1="31.8" y1="342" x2="35.1" y2="342" stroke="#333" stroke-width="0.9"/>
<text x="28.1" y="345.13" font-size="8.7" text-anchor="end" fill="#222" stroke="#222" font-family='"Liberation Sans", sans-serif' stroke-width="0.18">7</text>
<line x1="31.8" y1="315.44" x2="35.1" y2="315.44" stroke="#333" stroke-width="0.9"/>
<text x="28.1" y="318.57" font-size="8.7" text-anchor="end" fill="#222" stroke="#222" font-family='"Liberation Sans", sans-serif' stroke-width="0.18">8</text>
<line x1="31.8" y1="288.88" x2="35.1" y2="288.88" stroke="#333" stroke-width="0.9"/>
<text x="28.1" y="292.01" font-size="8.7" text-anchor="end" fill="#222" stroke="#222" font-family='"Liberation Sans", sans-serif' stroke-width="0.18">9</text>
<line x1="31.8" y1="262.32" x2="35.1" y2="262.32" stroke="#333" stroke-width="0.9"/>
<text x="28.1" y="265.45" font-size="8.7" text-anchor="end" fill="#222" stroke="#222" font-family='"Liberation Sans", sans-serif' stroke-width="0.18">10</text>
<line x1="67.1" y1="474.8" x2="67.1" y2="478.3" stroke="#333" stroke-width="0.9"/>
<text x="67.1" y="489.8" font-size="8.7" text-anchor="middle" fill="#222" stroke="#222" font-family='"Liberation Sans", sans-serif' stroke-width="0.18">13</text>
<line x1="91.8" y1="474.8" x2="91.8" y2="478.3" stroke="#333" stroke-width="0.9"/>
<text x="91.8" y="489.8" font-size="8.7" text-anchor="middle" fill="#222" stroke="#222" font-family='"Liberation Sans", sans-serif' stroke-width="0.18">23</text>
<line x1="116.5" y1="474.8" x2="116.5" y2="478.3" stroke="#333" stroke-width="0.9"/>
<text x="116.5" y="489.8" font-size="8.7" text-anchor="middle" fill="#222" stroke="#222" font-family='"Liberation Sans", sans-serif' stroke-width="0.18">33</text>
<line x1="141.2" y1="474.8" x2="141.2" y2="478.3" stroke="#333" stroke-width="0.9"/>
<text x="141.2" y="489.8" font-size="8.7" text-anchor="middle" fill="#222" stroke="#222" font-family='"Liberation Sans", sans-serif' stroke-width="0.18">43</text>
<line x1="165.9" y1="474.8" x2="165.9" y2="478.3" stroke="#333" stroke-width="0.9"/>
<text x="165.9" y="489.8" font-size="8.7" text-anchor="middle" fill="#222" stroke="#222" font-family='"Liberation Sans", sans-serif' stroke-width="0.18">53</text>
<line x1="190.6" y1="474.8" x2="190.6" y2="478.3" stroke="#333" stroke-width="0.9"/>
<text x="190.6" y="489.8" font-size="8.7" text-anchor="middle" fill="#222" stroke="#222" font-family='"Liberation Sans", sans-serif' stroke-width="0.18">63</text>
<line x1="215.3" y1="474.8" x2="215.3" y2="478.3" stroke="#333" stroke-width="0.9"/>
<text x="215.3" y="489.8" font-size="8.7" text-anchor="middle" fill="#222" stroke="#222" font-family='"Liberation Sans", sans-serif' stroke-width="0.18">73</text>
<line x1="240" y1="474.8" x2="240" y2="478.3" stroke="#333" stroke-width="0.9"/>
<text x="240" y="489.8" font-size="8.7" text-anchor="middle" fill="#222" stroke="#222" font-family='"Liberation Sans", sans-serif' stroke-width="0.18">83</text>
<line x1="264.7" y1="474.8" x2="264.7" y2="478.3" stroke="#333" stroke-width="0.9"/>
<text x="264.7" y="489.8" font-size="8.7" text-anchor="middle" fill="#222" stroke="#222" font-family='"Liberation Sans", sans-serif' stroke-width="0.18">93</text>
<line x1="289.4" y1="474.8" x2="289.4" y2="478.3" stroke="#333" stroke-width="0.9"/>
<text x="289.4" y="489.8" font-size="8.7" text-anchor="middle" fill="#222" stroke="#222" font-family='"Liberation Sans", sans-serif' stroke-width="0.18">103</text>
<text x="152.1" y="508.2" font-size="9.2" text-anchor="start" fill="#222" stroke="#222" font-family='"Liberation Sans", sans-serif' textLength="62.8" lengthAdjust="spacingAndGlyphs" stroke-width="0.3">Age of calves, d</text>
<text transform="translate(8.5 412.9) rotate(-90)" font-size="8.6" fill="#222" stroke="#222" stroke-width="0.18" font-family='"Liberation Sans", sans-serif' textLength="88.4" lengthAdjust="spacingAndGlyphs">Total ME intake, Mcal</text>
<text x="72" y="284" font-size="17" text-anchor="start" fill="#000" stroke="#000" font-family='"Liberation Sans", sans-serif' stroke-width="0.18">C</text>
<polyline points="67.1,441.07 91.8,434.16 116.5,421.15 141.2,400.7 165.9,384.76 190.6,364.04 215.3,325.53 240,297.11 264.7,333.24 289.4,314.11" fill="none" stroke="#000" stroke-width="0.8"/>
<polyline points="67.1,410.26 91.8,406.01 116.5,400.7 141.2,386.89 165.9,372.01 190.6,352.09 215.3,310.13 240,298.97 264.7,332.17 289.4,334.56" fill="none" stroke="#000" stroke-width="0.8"/>
<polyline points="67.1,441.07 91.8,419.29 116.5,377.59 141.2,370.68 165.9,361.12 190.6,347.84 215.3,325.53 240,330.05 264.7,336.95 289.4,314.11" fill="none" stroke="#000" stroke-width="0.8"/>
<polyline points="67.1,410.26 91.8,382.64 116.5,329.25 141.2,328.19 165.9,325 190.6,318.1 215.3,304.02 240,332.7 264.7,347.58 289.4,305.88" fill="none" stroke="#000" stroke-width="0.8"/>
<path d="M91.5 432.84V435.49" stroke="#000" stroke-width="0.85" fill="none"/>
<path d="M88.5 432.84H95.1M88.5 435.49H95.1" stroke="#000" stroke-width="0.8" fill="none"/>
<path d="M116.5 419.02V423.27" stroke="#000" stroke-width="0.85" fill="none"/>
<path d="M113.2 419.02H119.8M113.2 423.27H119.8" stroke="#000" stroke-width="0.8" fill="none"/>
<path d="M141.5 398.04V403.35" stroke="#000" stroke-width="0.85" fill="none"/>
<path d="M137.9 398.04H144.5M137.9 403.35H144.5" stroke="#000" stroke-width="0.8" fill="none"/>
<path d="M165.5 380.78V388.75" stroke="#000" stroke-width="0.85" fill="none"/>
<path d="M162.6 380.78H169.2M162.6 388.75H169.2" stroke="#000" stroke-width="0.8" fill="none"/>
<path d="M190.5 358.73V369.36" stroke="#000" stroke-width="0.85" fill="none"/>
<path d="M187.3 358.73H193.9M187.3 369.36H193.9" stroke="#000" stroke-width="0.8" fill="none"/>
<path d="M215.5 315.71V335.36" stroke="#000" stroke-width="0.85" fill="none"/>
<path d="M212 315.71H218.6M212 335.36H218.6" stroke="#000" stroke-width="0.8" fill="none"/>
<path d="M240.5 285.96V308.27" stroke="#000" stroke-width="0.85" fill="none"/>
<path d="M236.7 285.96H243.3M236.7 308.27H243.3" stroke="#000" stroke-width="0.8" fill="none"/>
<path d="M264.5 319.96V346.52" stroke="#000" stroke-width="0.85" fill="none"/>
<path d="M261.4 319.96H268M261.4 346.52H268" stroke="#000" stroke-width="0.8" fill="none"/>
<path d="M289.5 292.07V336.16" stroke="#000" stroke-width="0.85" fill="none"/>
<path d="M286.1 292.07H292.7M286.1 336.16H292.7" stroke="#000" stroke-width="0.8" fill="none"/>
<circle cx="67.1" cy="441.07" r="2.55" fill="#000"/>
<circle cx="91.8" cy="434.16" r="2.55" fill="#000"/>
<circle cx="116.5" cy="421.15" r="2.55" fill="#000"/>
<circle cx="141.2" cy="400.7" r="2.55" fill="#000"/>
<circle cx="165.9" cy="384.76" r="2.55" fill="#000"/>
<circle cx="190.6" cy="364.04" r="2.55" fill="#000"/>
<circle cx="215.3" cy="325.53" r="2.55" fill="#000"/>
<circle cx="240" cy="297.11" r="2.55" fill="#000"/>
<circle cx="264.7" cy="333.24" r="2.55" fill="#000"/>
<circle cx="289.4" cy="314.11" r="2.55" fill="#000"/>
<path d="M91.5 404.68V407.34" stroke="#000" stroke-width="0.85" fill="none"/>
<path d="M88.5 404.68H95.1M88.5 407.34H95.1" stroke="#000" stroke-width="0.8" fill="none"/>
<path d="M116.5 398.57V402.82" stroke="#000" stroke-width="0.85" fill="none"/>
<path d="M113.2 398.57H119.8M113.2 402.82H119.8" stroke="#000" stroke-width="0.8" fill="none"/>
<path d="M141.5 384.23V389.54" stroke="#000" stroke-width="0.85" fill="none"/>
<path d="M137.9 384.23H144.5M137.9 389.54H144.5" stroke="#000" stroke-width="0.8" fill="none"/>
<path d="M165.5 368.03V376" stroke="#000" stroke-width="0.85" fill="none"/>
<path d="M162.6 368.03H169.2M162.6 376H169.2" stroke="#000" stroke-width="0.8" fill="none"/>
<path d="M190.5 346.78V357.4" stroke="#000" stroke-width="0.85" fill="none"/>
<path d="M187.3 346.78H193.9M187.3 357.4H193.9" stroke="#000" stroke-width="0.8" fill="none"/>
<path d="M215.5 300.3V319.96" stroke="#000" stroke-width="0.85" fill="none"/>
<path d="M212 300.3H218.6M212 319.96H218.6" stroke="#000" stroke-width="0.8" fill="none"/>
<path d="M240.5 287.82V310.13" stroke="#000" stroke-width="0.85" fill="none"/>
<path d="M236.7 287.82H243.3M236.7 310.13H243.3" stroke="#000" stroke-width="0.8" fill="none"/>
<path d="M264.5 318.89V345.45" stroke="#000" stroke-width="0.85" fill="none"/>
<path d="M261.4 318.89H268M261.4 345.45H268" stroke="#000" stroke-width="0.8" fill="none"/>
<path d="M289.5 312.25V356.87" stroke="#000" stroke-width="0.85" fill="none"/>
<path d="M286.1 312.25H292.7M286.1 356.87H292.7" stroke="#000" stroke-width="0.8" fill="none"/>
<circle cx="67.1" cy="410.26" r="2.15" fill="#fff" stroke="#000" stroke-width="0.8"/>
<circle cx="91.8" cy="406.01" r="2.15" fill="#fff" stroke="#000" stroke-width="0.8"/>
<circle cx="116.5" cy="400.7" r="2.15" fill="#fff" stroke="#000" stroke-width="0.8"/>
<circle cx="141.2" cy="386.89" r="2.15" fill="#fff" stroke="#000" stroke-width="0.8"/>
<circle cx="165.9" cy="372.01" r="2.15" fill="#fff" stroke="#000" stroke-width="0.8"/>
<circle cx="190.6" cy="352.09" r="2.15" fill="#fff" stroke="#000" stroke-width="0.8"/>
<circle cx="215.3" cy="310.13" r="2.15" fill="#fff" stroke="#000" stroke-width="0.8"/>
<circle cx="240" cy="298.97" r="2.15" fill="#fff" stroke="#000" stroke-width="0.8"/>
<circle cx="264.7" cy="332.17" r="2.15" fill="#fff" stroke="#000" stroke-width="0.8"/>
<circle cx="289.4" cy="334.56" r="2.15" fill="#fff" stroke="#000" stroke-width="0.8"/>
<path d="M91.5 417.96V420.62" stroke="#000" stroke-width="0.85" fill="none"/>
<path d="M88.5 417.96H95.1M88.5 420.62H95.1" stroke="#000" stroke-width="0.8" fill="none"/>
<path d="M116.5 375.47V379.72" stroke="#000" stroke-width="0.85" fill="none"/>
<path d="M113.2 375.47H119.8M113.2 379.72H119.8" stroke="#000" stroke-width="0.8" fill="none"/>
<path d="M141.5 368.03V373.34" stroke="#000" stroke-width="0.85" fill="none"/>
<path d="M137.9 368.03H144.5M137.9 373.34H144.5" stroke="#000" stroke-width="0.8" fill="none"/>
<path d="M165.5 357.14V365.11" stroke="#000" stroke-width="0.85" fill="none"/>
<path d="M162.6 357.14H169.2M162.6 365.11H169.2" stroke="#000" stroke-width="0.8" fill="none"/>
<path d="M190.5 342.53V353.16" stroke="#000" stroke-width="0.85" fill="none"/>
<path d="M187.3 342.53H193.9M187.3 353.16H193.9" stroke="#000" stroke-width="0.8" fill="none"/>
<path d="M215.5 315.71V335.36" stroke="#000" stroke-width="0.85" fill="none"/>
<path d="M212 315.71H218.6M212 335.36H218.6" stroke="#000" stroke-width="0.8" fill="none"/>
<path d="M240.5 318.89V341.2" stroke="#000" stroke-width="0.85" fill="none"/>
<path d="M236.7 318.89H243.3M236.7 341.2H243.3" stroke="#000" stroke-width="0.8" fill="none"/>
<path d="M264.5 323.67V350.23" stroke="#000" stroke-width="0.85" fill="none"/>
<path d="M261.4 323.67H268M261.4 350.23H268" stroke="#000" stroke-width="0.8" fill="none"/>
<path d="M289.5 292.86V335.36" stroke="#000" stroke-width="0.85" fill="none"/>
<path d="M286.1 292.86H292.7M286.1 335.36H292.7" stroke="#000" stroke-width="0.8" fill="none"/>
<path d="M64.24 439.03L69.96 439.03L67.1 443.87Z" fill="#000"/>
<path d="M88.94 417.25L94.66 417.25L91.8 422.09Z" fill="#000"/>
<path d="M113.64 375.55L119.36 375.55L116.5 380.4Z" fill="#000"/>
<path d="M138.34 368.64L144.06 368.64L141.2 373.49Z" fill="#000"/>
<path d="M163.04 359.08L168.76 359.08L165.9 363.93Z" fill="#000"/>
<path d="M187.74 345.8L193.46 345.8L190.6 350.65Z" fill="#000"/>
<path d="M212.44 323.49L218.16 323.49L215.3 328.34Z" fill="#000"/>
<path d="M237.14 328.01L242.86 328.01L240 332.85Z" fill="#000"/>
<path d="M261.84 334.91L267.56 334.91L264.7 339.76Z" fill="#000"/>
<path d="M286.54 312.07L292.26 312.07L289.4 316.92Z" fill="#000"/>
<path d="M91.5 381.31V383.96" stroke="#000" stroke-width="0.85" fill="none"/>
<path d="M88.5 381.31H95.1M88.5 383.96H95.1" stroke="#000" stroke-width="0.8" fill="none"/>
<path d="M116.5 327.13V331.38" stroke="#000" stroke-width="0.85" fill="none"/>
<path d="M113.2 327.13H119.8M113.2 331.38H119.8" stroke="#000" stroke-width="0.8" fill="none"/>
<path d="M141.5 325.53V330.84" stroke="#000" stroke-width="0.85" fill="none"/>
<path d="M137.9 325.53H144.5M137.9 330.84H144.5" stroke="#000" stroke-width="0.8" fill="none"/>
<path d="M165.5 320.49V329.52" stroke="#000" stroke-width="0.85" fill="none"/>
<path d="M162.6 320.49H169.2M162.6 329.52H169.2" stroke="#000" stroke-width="0.8" fill="none"/>
<path d="M190.5 312.78V323.41" stroke="#000" stroke-width="0.85" fill="none"/>
<path d="M187.3 312.78H193.9M187.3 323.41H193.9" stroke="#000" stroke-width="0.8" fill="none"/>
<path d="M215.5 294.19V313.85" stroke="#000" stroke-width="0.85" fill="none"/>
<path d="M212 294.19H218.6M212 313.85H218.6" stroke="#000" stroke-width="0.8" fill="none"/>
<path d="M240.5 321.55V343.86" stroke="#000" stroke-width="0.85" fill="none"/>
<path d="M236.7 321.55H243.3M236.7 343.86H243.3" stroke="#000" stroke-width="0.8" fill="none"/>
<path d="M264.5 334.3V360.86" stroke="#000" stroke-width="0.85" fill="none"/>
<path d="M261.4 334.3H268M261.4 360.86H268" stroke="#000" stroke-width="0.8" fill="none"/>
<path d="M289.5 284.36V327.39" stroke="#000" stroke-width="0.85" fill="none"/>
<path d="M286.1 284.36H292.7M286.1 327.39H292.7" stroke="#000" stroke-width="0.8" fill="none"/>
<path d="M64.68 412.1L69.52 412.1L67.1 407.84Z" fill="#fff" stroke="#000" stroke-width="0.8" stroke-linejoin="miter"/>
<path d="M89.38 384.47L94.22 384.47L91.8 380.21Z" fill="#fff" stroke="#000" stroke-width="0.8" stroke-linejoin="miter"/>
<path d="M114.08 331.09L118.92 331.09L116.5 326.83Z" fill="#fff" stroke="#000" stroke-width="0.8" stroke-linejoin="miter"/>
<path d="M138.78 330.02L143.62 330.02L141.2 325.77Z" fill="#fff" stroke="#000" stroke-width="0.8" stroke-linejoin="miter"/>
<path d="M163.48 326.84L168.32 326.84L165.9 322.58Z" fill="#fff" stroke="#000" stroke-width="0.8" stroke-linejoin="miter"/>
<path d="M188.18 319.93L193.02 319.93L190.6 315.67Z" fill="#fff" stroke="#000" stroke-width="0.8" stroke-linejoin="miter"/>
<path d="M212.88 305.86L217.72 305.86L215.3 301.6Z" fill="#fff" stroke="#000" stroke-width="0.8" stroke-linejoin="miter"/>
<path d="M237.58 334.54L242.42 334.54L240 330.28Z" fill="#fff" stroke="#000" stroke-width="0.8" stroke-linejoin="miter"/>
<path d="M262.28 349.41L267.12 349.41L264.7 345.16Z" fill="#fff" stroke="#000" stroke-width="0.8" stroke-linejoin="miter"/>
<path d="M286.98 307.71L291.82 307.71L289.4 303.46Z" fill="#fff" stroke="#000" stroke-width="0.8" stroke-linejoin="miter"/>
<line x1="251.4" y1="403.5" x2="270.7" y2="403.5" stroke="#1a1a1a" stroke-width="0.9"/>
<circle cx="261.2" cy="403.5" r="2.95" fill="#000"/>
<text x="275.1" y="406.94" font-size="8.45" text-anchor="start" fill="#1a1a1a" stroke="#1a1a1a" font-family='"Liberation Sans", sans-serif' stroke-width="0.18">LPM-12% TS</text>
<line x1="251.4" y1="412.5" x2="270.7" y2="412.5" stroke="#1a1a1a" stroke-width="0.9"/>
<circle cx="261.2" cy="412.5" r="2.55" fill="#fff" stroke="#000" stroke-width="0.8"/>
<text x="275.1" y="415.94" font-size="8.45" text-anchor="start" fill="#1a1a1a" stroke="#1a1a1a" font-family='"Liberation Sans", sans-serif' stroke-width="0.18">LPM-17% TS</text>
<line x1="251.4" y1="421.5" x2="270.7" y2="421.5" stroke="#1a1a1a" stroke-width="0.9"/>
<path d="M257.9 419.14L264.5 419.14L261.2 424.75Z" fill="#000"/>
<text x="275.1" y="424.84" font-size="8.45" text-anchor="start" fill="#1a1a1a" stroke="#1a1a1a" font-family='"Liberation Sans", sans-serif' stroke-width="0.18">HPM-12% TS</text>
<line x1="251.4" y1="430.5" x2="270.7" y2="430.5" stroke="#1a1a1a" stroke-width="0.9"/>
<path d="M258.4 432.62L264 432.62L261.2 427.7Z" fill="#fff" stroke="#000" stroke-width="0.8" stroke-linejoin="miter"/>
<text x="275.1" y="433.94" font-size="8.45" text-anchor="start" fill="#1a1a1a" stroke="#1a1a1a" font-family='"Liberation Sans", sans-serif' stroke-width="0.18">HPM-17% TS</text>
<circle cx="683.1" cy="268.9" r="0.8" fill="#000"/>
</g>
</svg>
</body></html>
